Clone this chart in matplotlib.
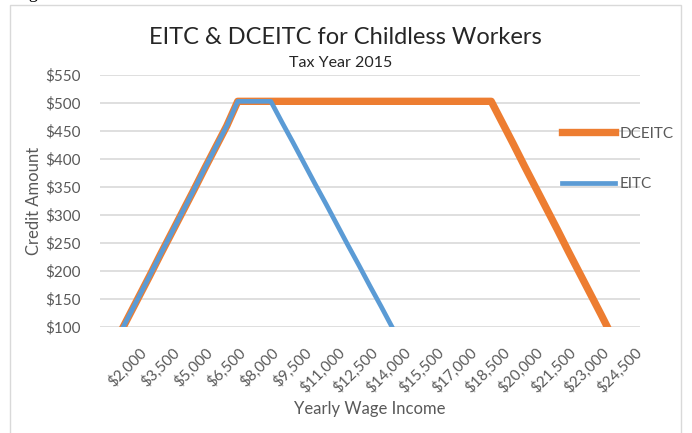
import matplotlib.pyplot as plt
from matplotlib.patches import Rectangle

plt.rcParams['font.family'] = ['Lato', 'DejaVu Sans']

# yearly wage categories ($500 steps, as in the original spreadsheet)
wages = [500, 1000, 1500, 2000, 2500, 3000, 3500, 4000, 4500, 5000,
         5500, 6000, 6500, 7000, 7500, 8000, 8500, 9000, 9500, 10000,
         10500, 11000, 11500, 12000, 12500, 13000, 13500, 14000, 14500, 15000,
         15500, 16000, 16500, 17000, 17500, 18000, 18500, 19000, 19500, 20000,
         20500, 21000, 21500, 22000, 22500, 23000, 23500, 24000, 24500]

eitc = [38, 77, 115, 153, 191, 230, 268, 306, 344, 383,
        421, 459, 503, 503, 503, 503, 466, 430, 393, 356,
        320, 283, 246, 210, 173, 137, 100, 63, 27, 0,
        0, 0, 0, 0, 0, 0, 0, 0, 0, 0,
        0, 0, 0, 0, 0, 0, 0, 0, 0]

dceitc = [38, 77, 115, 153, 191, 230, 268, 306, 344, 383,
          421, 459, 503, 503, 503, 503, 503, 503, 503, 503,
          503, 503, 503, 503, 503, 503, 503, 503, 503, 503,
          503, 503, 503, 503, 503, 503, 465, 427, 388, 350,
          312, 274, 235, 197, 159, 121, 82, 44, 6]

tick_wages = [2000, 3500, 5000, 6500, 8000, 9500, 11000, 12500, 14000,
              15500, 17000, 18500, 20000, 21500, 23000, 24500]
y_ticks = [100, 150, 200, 250, 300, 350, 400, 450, 500, 550]

W, H = 692, 433
grey = '#595959'

fig = plt.figure(figsize=(W / 100, H / 100), dpi=100)
ax = fig.add_axes([100 / W, 1 - 327 / H, 540 / W, 252 / H])

# chart outline like the excel chart area border
fig.add_artist(Rectangle((10 / W, -0.05), 671 / W, 1.05 - 5 / H,
                         transform=fig.transFigure, fill=False,
                         edgecolor='#d9d9d9', lw=1))
# caption of the document page, cut off at the top edge
fig.text(15 / W, 1 + 2 / H, 'Fig', va='baseline', fontsize=13,
         family='Liberation Serif', color='black')

dc_line, = ax.plot(wages, dceitc, color='#ED7D31', lw=5.3,
                   solid_joinstyle='round', label='DCEITC', zorder=3)
e_line, = ax.plot(wages, eitc, color='#5B9BD5', lw=3.4,
                  solid_joinstyle='round', label='EITC', zorder=4)

ax.set_xlim(250, 24750)
ax.set_ylim(100, 550)
ax.set_yticks(y_ticks)
ax.set_yticklabels([f'${v}' for v in y_ticks])
ax.set_xticks(tick_wages)
ax.set_xticklabels([f'${v:,}' for v in tick_wages], rotation=45,
                   ha='right', rotation_mode='anchor')
ax.tick_params(axis='both', length=0, colors=grey, labelsize=11)
ax.tick_params(axis='y', pad=14)
ax.tick_params(axis='x', pad=13)

ax.grid(axis='y', color='#d9d9d9', lw=1.2)
ax.set_axisbelow(True)
for s in ax.spines.values():
    s.set_visible(False)

ax.set_ylabel('Credit Amount', color=grey, fontsize=12, va='center')
ax.yaxis.set_label_coords((34 - 100) / 540, 0.5)
ax.set_xlabel('Yearly Wage Income', color=grey, fontsize=12, va='center')
ax.xaxis.set_label_coords(0.5, -(409 - 327) / 252)

fig.text(345 / W, 1 - 38 / H, 'EITC & DCEITC for Childless Workers',
         ha='center', va='center', fontsize=17, color='#262626')
fig.text(341 / W, 1 - 63 / H, 'Tax Year 2015',
         ha='center', va='center', fontsize=11.5, color='#262626')

ax.legend(handles=[dc_line, e_line], loc='upper left',
          bbox_to_anchor=(554 / W, 1 - 119 / H), bbox_transform=fig.transFigure,
          frameon=False, fontsize=11, labelcolor=grey, handlelength=3.5,
          handletextpad=0.3, labelspacing=2.4, borderpad=0)

fig.savefig('out.png', dpi=100)
